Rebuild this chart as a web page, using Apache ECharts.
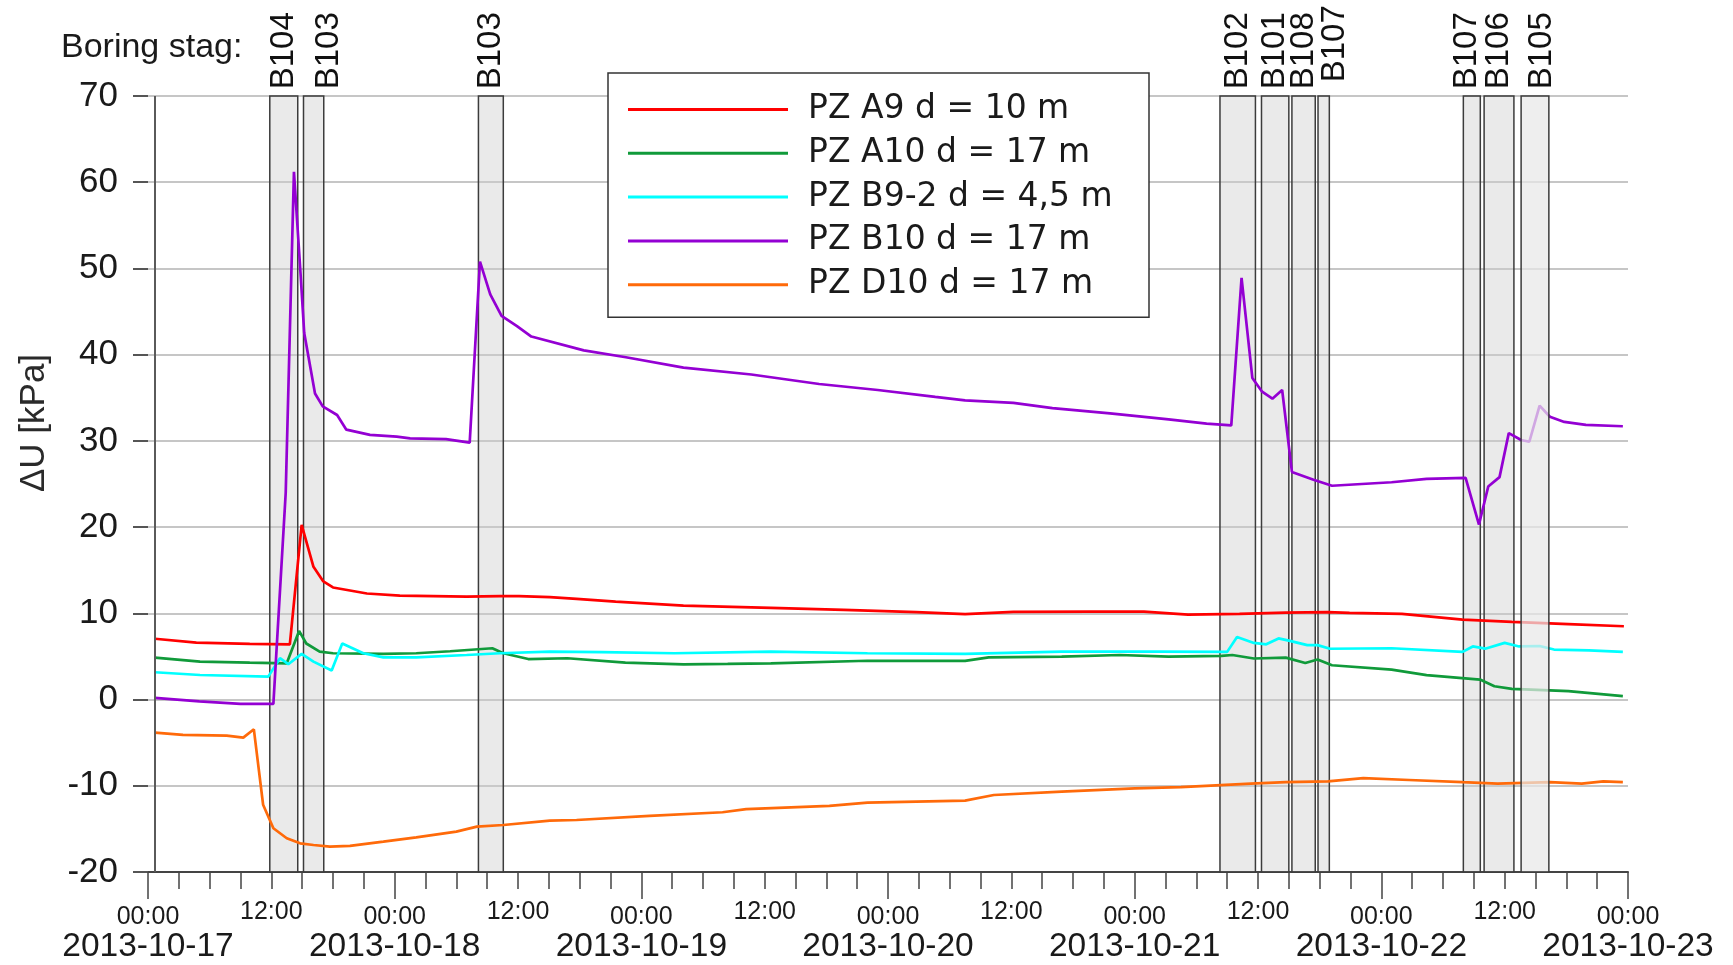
<!DOCTYPE html>
<html>
<head>
<meta charset="utf-8">
<script src="https://cdn.jsdelivr.net/npm/echarts@6/dist/echarts.min.js"></script>
<style>
html,body{margin:0;padding:0;background:#fff;}
#chart{width:1733px;height:965px;}
</style>
</head>
<body>
<div id="chart"></div>
<script>
// Time base: hours counted from 2013-10-17 00:00
const startDateUTC = Date.UTC(2013, 9, 17);
const xMinHours = 0;
const xMaxHours = 144;

const seriesNames = ['PZ A9 d = 10 m', 'PZ A10 d = 17 m', 'PZ B9-2 d = 4,5 m', 'PZ B10 d = 17 m', 'PZ D10 d = 17 m'];
const seriesColors = ['#ff0000', '#109a3a', '#00ffff', '#9400d3', '#ff6a0a'];

// [hours since start, ΔU kPa]
const pzA9 = [[0.67,7.05],[4.7,6.6],[9.9,6.45],[13.8,6.4],[14.95,20.25],[16.1,15.4],[17.06,13.7],[18.0,13.0],[21.3,12.3],[24.5,12.06],[31.0,11.94],[34.25,12.0],[36.1,12.0],[39.1,11.87],[41.7,11.67],[45.5,11.36],[52.1,10.9],[60.6,10.63],[67.7,10.4],[74.75,10.13],[79.5,9.9],[84.2,10.16],[91.7,10.2],[96.9,10.2],[101.2,9.85],[106.2,9.93],[110.7,10.09],[114.8,10.15],[116.9,10.05],[122.0,9.93],[127.9,9.27],[132.7,9.0],[138.2,8.75],[143.6,8.5]];
const pzA10 = [[0.67,4.86],[5.06,4.4],[9.9,4.28],[13.5,4.2],[14.7,7.96],[15.4,6.5],[16.7,5.56],[18.0,5.37],[22.9,5.3],[26.1,5.37],[29.4,5.6],[33.5,5.95],[34.57,5.37],[37.0,4.7],[40.8,4.79],[46.45,4.28],[52.1,4.09],[56.4,4.13],[60.6,4.2],[70.0,4.5],[74.75,4.48],[79.5,4.48],[81.8,4.9],[88.9,4.98],[94.55,5.17],[99.3,4.98],[104.45,5.06],[105.5,5.17],[107.6,4.76],[110.7,4.86],[112.6,4.24],[113.8,4.65],[115.2,3.98],[121.0,3.47],[124.4,2.84],[129.6,2.32],[131.0,1.54],[132.7,1.24],[138.2,0.97],[143.5,0.4]];
const pzB92 = [[0.67,3.17],[5.06,2.85],[11.7,2.66],[12.84,4.8],[13.65,4.1],[14.95,5.29],[16.1,4.4],[17.87,3.36],[18.9,6.5],[20.95,5.37],[22.9,4.9],[26.1,4.9],[31.0,5.17],[34.25,5.37],[39.1,5.56],[44.1,5.49],[51.2,5.37],[60.6,5.56],[70.0,5.37],[79.5,5.29],[88.9,5.56],[98.3,5.56],[105.0,5.53],[105.96,7.25],[107.6,6.57],[108.8,6.41],[110.0,7.09],[111.0,6.83],[112.8,6.31],[113.8,6.31],[115.0,5.89],[121.0,5.95],[127.9,5.53],[128.9,6.16],[130.1,5.9],[132.0,6.57],[133.4,6.16],[135.4,6.21],[136.8,5.8],[140.2,5.7],[143.5,5.53]];
const pzB10 = [[0.67,0.2],[5.0,-0.2],[9.0,-0.5],[12.2,-0.5],[13.4,24],[14.2,61.2],[14.8,50.2],[15.2,42.5],[16.25,35.5],[17.0,34.0],[18.4,33.0],[19.3,31.3],[21.6,30.7],[24.2,30.5],[25.5,30.3],[29.0,30.2],[31.3,29.8],[32.3,50.8],[33.3,47.0],[34.4,44.5],[35.9,43.3],[37.3,42.1],[42.4,40.5],[46.5,39.7],[52.1,38.5],[58.7,37.7],[65.3,36.6],[71.0,35.9],[76.6,35.1],[79.5,34.7],[84.2,34.4],[88.0,33.8],[93.6,33.2],[99.3,32.5],[103.0,32.0],[105.4,31.8],[106.4,48.9],[107.45,37.3],[108.4,35.7],[109.4,34.9],[110.35,35.9],[111.3,26.4],[113.4,25.5],[115.2,24.8],[121.0,25.2],[124.4,25.6],[128.2,25.7],[129.5,20.3],[130.4,24.7],[131.5,25.8],[132.4,30.9],[133.6,30.1],[134.4,29.9],[135.4,34.1],[136.4,32.8],[137.8,32.2],[139.9,31.85],[143.5,31.7]];
const pzD10 = [[0.67,-3.84],[3.4,-4.1],[7.66,-4.19],[9.27,-4.42],[10.3,-3.45],[11.2,-12.2],[12.2,-14.93],[13.5,-16.09],[14.8,-16.67],[16.1,-16.87],[17.7,-17.06],[19.65,-16.98],[22.9,-16.48],[26.1,-15.98],[30.0,-15.32],[32.0,-14.74],[34.57,-14.55],[39.1,-14.05],[41.7,-13.97],[48.8,-13.5],[55.9,-13.07],[58.2,-12.7],[66.3,-12.34],[70.0,-11.96],[79.5,-11.73],[82.3,-11.07],[88.9,-10.68],[96.0,-10.29],[100.5,-10.15],[107.3,-9.74],[110.7,-9.58],[114.8,-9.48],[118.25,-9.12],[122.7,-9.33],[127.9,-9.58],[131.3,-9.74],[136.4,-9.58],[139.5,-9.74],[141.6,-9.48],[143.5,-9.58]];

// Boring stages (hours since start)
const boringNames = ['B104','B103','B103','B102','B101','B108','B107','B107','B106','B105'];
const boringStart = [11.85, 15.13, 32.15, 104.3, 108.34, 111.3, 113.84, 127.98, 130.0, 133.6];
const boringEnd   = [14.57, 17.1, 34.57, 107.75, 111.0, 113.57, 114.94, 129.63, 132.9, 136.3];
const dataStartHour = 0.67;

const yMin = -20, yMax = 70, yStep = 10;

// label nudges (style only)
const labelNudge = {1: [0, 15], 6: [7, 11], 7: [0, -5], 9: [0, 7]};
const overlayIndex = 9;

function areaItem(i) {
  const item = [{name: boringNames[i], xAxis: boringStart[i]}, {xAxis: boringEnd[i]}];
  if (labelNudge[i]) item[0].label = {offset: labelNudge[i]};
  return item;
}
const areaLabel = {
  show: true, position: 'top', rotate: 90, distance: 6, align: 'left', verticalAlign: 'middle',
  fontSize: 33, fontFamily: 'Liberation Sans, Arial, sans-serif', color: '#111'
};
const underAreas = boringNames.map((n, i) => i).filter(i => i !== overlayIndex).map(areaItem);
const overAreas = [areaItem(overlayIndex)];

const seriesData = [pzA9, pzA10, pzB92, pzB10, pzD10];
const series = seriesData.map((d, i) => ({
  name: seriesNames[i], type: 'line', data: d, symbol: 'none', showSymbol: false,
  lineStyle: {width: 2.7, color: seriesColors[i]}, itemStyle: {color: seriesColors[i]},
  z: 2, animation: false
}));
series.push({
  name: 'stages', type: 'line', data: [], animation: false,
  markArea: {
    silent: true, z: 1,
    itemStyle: {color: 'rgba(205,205,205,0.42)', borderColor: '#3c3c3c', borderWidth: 1.5},
    label: areaLabel, data: underAreas
  },
  markLine: {
    silent: true, symbol: ['none','none'], label: {show: false},
    lineStyle: {color: '#5a5a5a', width: 2, type: 'solid'},
    data: [{xAxis: dataStartHour}]
  }
});
series.push({
  name: 'stagesOver', type: 'line', data: [], animation: false,
  markArea: {
    silent: true, z: 3,
    itemStyle: {color: 'rgba(232,232,232,0.72)', borderColor: '#3c3c3c', borderWidth: 1.5},
    label: areaLabel, data: overAreas
  }
});

function pad(n){return n < 10 ? '0' + n : '' + n;}
function xLabel(v) {
  const h = Math.round(v);
  if (h % 24 === 0) {
    const d = new Date(startDateUTC + h * 3600000);
    const s = d.getUTCFullYear() + '-' + pad(d.getUTCMonth() + 1) + '-' + pad(d.getUTCDate());
    return '{a|00:00}\n{d|' + s + '}';
  }
  if (h % 12 === 0) return '{b|12:00}';
  return '';
}

const chart = echarts.init(document.getElementById('chart'), null, {renderer: 'canvas'});
chart.setOption({
  animation: false,
  backgroundColor: '#ffffff',
  grid: {left: 148, right: 105, top: 96, bottom: 93, containLabel: false},
  xAxis: [{
    type: 'value', min: xMinHours, max: xMaxHours, interval: 3,
    axisLine: {show: true, onZero: false, lineStyle: {color: '#444', width: 2}},
    axisTick: {show: true, length: 17, lineStyle: {color: '#444', width: 1.5}},
    splitLine: {show: false},
    axisLabel: {
      show: true, margin: 28, interval: 0, showMinLabel: true, showMaxLabel: true,
      formatter: xLabel, color: '#1a1a1a', fontFamily: 'Liberation Sans, Arial, sans-serif',
      rich: {
        a: {fontSize: 25, lineHeight: 34, color: '#1a1a1a', fontFamily: 'Liberation Sans, Arial, sans-serif'},
        d: {fontSize: 33.5, lineHeight: 26, color: '#1a1a1a', fontFamily: 'Liberation Sans, Arial, sans-serif'},
        b: {fontSize: 25, lineHeight: 24, color: '#1a1a1a', fontFamily: 'Liberation Sans, Arial, sans-serif'}
      }
    }
  }, {
    type: 'value', min: xMinHours, max: xMaxHours, interval: 24, position: 'bottom',
    axisLine: {show: false, onZero: false},
    axisTick: {show: true, length: 27, lineStyle: {color: '#444', width: 1.5}},
    axisLabel: {show: false}, splitLine: {show: false}
  }],
  yAxis: {
    type: 'value', min: yMin, max: yMax, interval: yStep,
    axisLine: {show: false},
    axisTick: {show: true, length: 15, lineStyle: {color: '#555', width: 2}},
    axisLabel: {margin: 30, fontSize: 35, fontFamily: 'Liberation Sans, Arial, sans-serif', color: '#1a1a1a'},
    splitLine: {show: true, lineStyle: {color: '#c6c6c6', width: 2}}
  },
  legend: {
    data: seriesNames, orient: 'vertical', left: 608, top: 73,
    padding: [20, 21, 16, 20], itemGap: 10.8, itemWidth: 160, itemHeight: 3, icon: 'rect',
    backgroundColor: '#ffffff', borderColor: '#333', borderWidth: 1.5, borderRadius: 0,
    selectedMode: false,
    textStyle: {fontFamily: 'DejaVu Sans, sans-serif', fontSize: 33, color: '#1a1a1a', lineHeight: 30, width: 320, padding: [0, 0, 0, 15]}
  },
  graphic: [
    {type: 'text', x: 61, y: 48, style: {text: 'Boring stag:', font: '34px "Liberation Sans", Arial, sans-serif', fill: '#1a1a1a', textAlign: 'left', textVerticalAlign: 'middle', align: 'left', verticalAlign: 'middle'}},
    {type: 'text', x: 34, y: 423, rotation: Math.PI / 2, style: {text: 'ΔU [kPa]', font: '35px "Liberation Sans", Arial, sans-serif', fill: '#2a2a2a', textAlign: 'center', textVerticalAlign: 'middle', align: 'center', verticalAlign: 'middle'}}
  ],
  series: series
});
</script>
</body>
</html>
